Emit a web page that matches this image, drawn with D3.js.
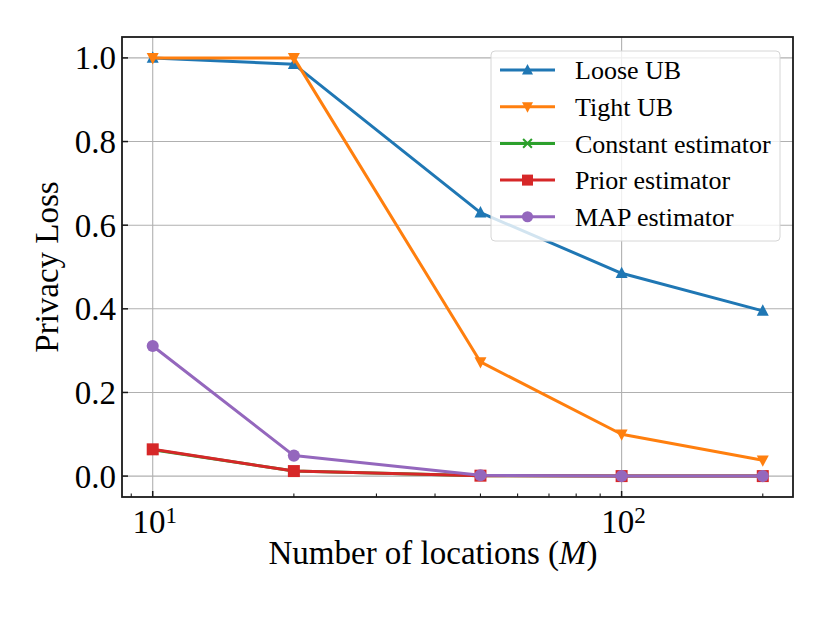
<!DOCTYPE html>
<html>
<head>
<meta charset="utf-8">
<script src="https://cdn.jsdelivr.net/npm/d3@7"></script>
<style>
  body { margin: 0; background: #fff; }
  text { font-family: "Liberation Serif", "Times New Roman", serif; fill: #000; }
</style>
</head>
<body>
<script>
// values
var locations = [10, 20, 50, 100, 200];
var looseUB = [1.0, 0.985, 0.63, 0.485, 0.395];
var tightUB = [1.0, 1.0, 0.273, 0.10, 0.038];
var constantEst = [0.063, 0.012, 0.001, 0.0, 0.0];
var priorEst = [0.064, 0.012, 0.001, 0.0, 0.0];
var mapEst = [0.311, 0.049, 0.002, 0.0, 0.0];
var yTicks = [0.0, 0.2, 0.4, 0.6, 0.8, 1.0];

var series = [
  {name: "Loose UB", values: looseUB, color: "#1f77b4", marker: "up"},
  {name: "Tight UB", values: tightUB, color: "#ff7f0e", marker: "down"},
  {name: "Constant estimator", values: constantEst, color: "#2ca02c", marker: "x"},
  {name: "Prior estimator", values: priorEst, color: "#d62728", marker: "square"},
  {name: "MAP estimator", values: mapEst, color: "#9467bd", marker: "circle"}
];

var W = 830, H = 623;
var m = {left: 122, right: 793, top: 37, bottom: 497};

var svg = d3.select("body").append("svg")
  .attr("width", W).attr("height", H);

var x = d3.scaleLog().domain([8.6, 232]).range([m.left, m.right]);
var y = d3.scaleLinear().domain([-0.05, 1.05]).range([m.bottom, m.top]);

// grid
var grid = svg.append("g");
grid.selectAll(".gy").data(yTicks).enter().append("line")
  .attr("x1", m.left).attr("x2", m.right)
  .attr("y1", d => y(d)).attr("y2", d => y(d))
  .attr("stroke", "#b0b0b0").attr("stroke-width", 1.1);
grid.selectAll(".gx").data([10, 100]).enter().append("line")
  .attr("x1", d => x(d)).attr("x2", d => x(d))
  .attr("y1", m.top).attr("y2", m.bottom)
  .attr("stroke", "#b0b0b0").attr("stroke-width", 1.1);

// marker shapes
function markerPath(type, s) {
  var h = s / 2;
  if (type === "up") return "M0," + (-h * 1.1) + "L" + h + "," + (h * 0.8) + "L" + (-h) + "," + (h * 0.8) + "Z";
  if (type === "down") return "M0," + (h * 1.1) + "L" + h + "," + (-h * 0.8) + "L" + (-h) + "," + (-h * 0.8) + "Z";
  if (type === "square") return "M" + (-h) + "," + (-h) + "h" + s + "v" + s + "h" + (-s) + "Z";
  if (type === "x") return "M" + (-h * 0.8) + "," + (-h * 0.8) + "L" + (h * 0.8) + "," + (h * 0.8) + "M" + (h * 0.8) + "," + (-h * 0.8) + "L" + (-h * 0.8) + "," + (h * 0.8);
  return d3.symbol().type(d3.symbolCircle).size(s * s * 0.8)();
}

function drawMarker(g, type, color, s) {
  var p = g.append("path").attr("d", markerPath(type, s));
  if (type === "x") p.attr("fill", "none").attr("stroke", color).attr("stroke-width", 2);
  else p.attr("fill", color);
  return p;
}

var line = d3.line().x(d => x(d[0])).y(d => y(d[1]));

var plot = svg.append("g");
series.forEach(function(s) {
  var pts = locations.map((l, i) => [l, s.values[i]]);
  plot.append("path").datum(pts)
    .attr("d", line)
    .attr("fill", "none")
    .attr("stroke", s.color)
    .attr("stroke-width", 3)
    .attr("stroke-linejoin", "round");
  pts.forEach(function(p) {
    var g = plot.append("g").attr("transform", "translate(" + x(p[0]) + "," + y(p[1]) + ")");
    drawMarker(g, s.marker, s.color, 12);
  });
});

// frame
svg.append("rect")
  .attr("x", m.left).attr("y", m.top)
  .attr("width", m.right - m.left).attr("height", m.bottom - m.top)
  .attr("fill", "none").attr("stroke", "#1a1a1a").attr("stroke-width", 1.8);

// y ticks (inward)
var yt = svg.append("g");
yTicks.forEach(function(t) {
  yt.append("line").attr("x1", m.left).attr("x2", m.left + 6)
    .attr("y1", y(t)).attr("y2", y(t)).attr("stroke", "#1a1a1a").attr("stroke-width", 1.5);
  yt.append("text").attr("x", m.left - 6).attr("y", y(t))
    .attr("dy", "0.35em").attr("text-anchor", "end")
    .style("font-size", "33px").text(d3.format(".1f")(t));
});

// x ticks (major + minor, inward)
var minor = [9, 20, 30, 40, 50, 60, 70, 80, 90, 200];
minor.forEach(function(t) {
  svg.append("line").attr("x1", x(t)).attr("x2", x(t))
    .attr("y1", m.bottom).attr("y2", m.bottom - 3.5)
    .attr("stroke", "#1a1a1a").attr("stroke-width", 1.1);
});
[10, 100].forEach(function(t, i) {
  svg.append("line").attr("x1", x(t)).attr("x2", x(t))
    .attr("y1", m.bottom).attr("y2", m.bottom - 6)
    .attr("stroke", "#1a1a1a").attr("stroke-width", 1.5);
  var tx = svg.append("text").attr("x", x(t) + 2).attr("y", 533)
    .attr("text-anchor", "middle").style("font-size", "33px");
  tx.append("tspan").text("10");
  tx.append("tspan").attr("dy", "-0.45em").style("font-size", "23px").text(String(i + 1));
});

// axis labels
svg.append("text").attr("x", 433).attr("y", 564)
  .attr("text-anchor", "middle").style("font-size", "33px")
  .html('Number of locations (<tspan font-style="italic">M</tspan>)');
svg.append("text")
  .attr("transform", "translate(58," + y(0.5) + ") rotate(-90)")
  .attr("text-anchor", "middle").style("font-size", "33px")
  .text("Privacy Loss");

// legend
var lg = svg.append("g");
lg.append("rect").attr("x", 491).attr("y", 51).attr("width", 289).attr("height", 190)
  .attr("rx", 4).attr("fill", "#fff").attr("fill-opacity", 0.8)
  .attr("stroke", "#d6d6d6").attr("stroke-width", 1);
series.forEach(function(s, i) {
  var cy = 70 + i * 36.7;
  lg.append("line").attr("x1", 500).attr("x2", 555).attr("y1", cy).attr("y2", cy)
    .attr("stroke", s.color).attr("stroke-width", 3);
  var g = lg.append("g").attr("transform", "translate(527.5," + cy + ")");
  drawMarker(g, s.marker, s.color, 11);
  lg.append("text").attr("x", 575).attr("y", cy).attr("dy", "0.35em")
    .style("font-size", "26px").text(s.name);
});
</script>
</body>
</html>
